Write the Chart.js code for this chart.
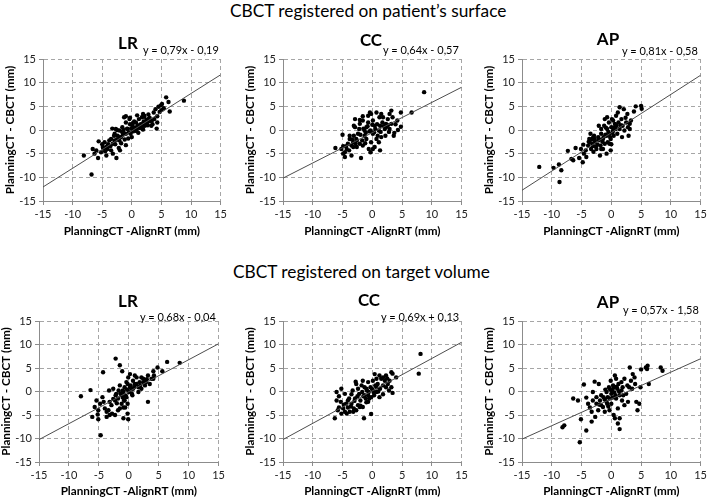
<!DOCTYPE html>
<html>
<head>
<meta charset="utf-8">
<script src="https://cdn.jsdelivr.net/npm/chart.js@4"></script>
<style>
  html, body { margin: 0; padding: 0; background: #fff; }
  body { width: 709px; height: 500px; position: relative; overflow: hidden; font-family: Lato, "Open Sans", sans-serif; color: #000; }
  .section { position: absolute; font-size: 17.3px; white-space: nowrap; transform: translateY(-50%); }
  .name { position: absolute; font-size: 17px; font-weight: bold; white-space: nowrap; transform: translate(-50%, -50%); }
  .eq { position: absolute; font-size: 11px; white-space: nowrap; transform: translateY(-50%); }
  .panel { position: absolute; }
</style>
</head>
<body>
<div class="section" style="left:230px; top:10px">CBCT registered on patient’s surface</div>
<div class="section" style="left:233px; top:271px">CBCT registered on target volume</div>

<script>
// tick labels shared by both axes of every panel
const axisTicks = [-15, -10, -5, 0, 5, 10, 15];
// x of the two ends of each regression line
const fitEndsX = [-15, 15];

// CBCT registered on patient's surface: [PlanningCT-AlignRT, PlanningCT-CBCT]
const surfaceLR = [
  [8.8,6.2],[5.8,6.9],[6.2,5.9],[6.4,3.9],[5.1,5.5],[4.5,4.9],[4.0,4.4],[3.7,3.7],[4.3,2.9],[4.3,1.6],
  [4.2,0.3],[3.4,2.0],[2.9,2.4],[3.3,0.9],[2.6,1.6],[2.1,3.0],[1.8,1.3],[1.8,0.2],[1.2,2.3],[0.9,0.6],
  [0.7,1.6],[0.4,-0.1],[0.1,0.9],[-0.2,-0.8],[-0.4,2.3],[-0.7,0.2],[-1.0,1.6],[-1.3,2.7],[-1.6,0.6],[-1.6,-0.5],
  [-1.8,-1.5],[-2.1,-0.1],[-2.1,-2.2],[-2.4,-1.2],[-2.7,0.2],[-2.9,-0.8],[-2.9,-2.2],[-3.2,-2.9],[-3.5,-1.9],[-3.8,-3.3],
  [-4.1,-4.0],[-4.3,-3.6],[-4.6,-2.6],[-4.9,-3.6],[-5.2,-4.7],[-5.6,-2.4],[-6.0,-4.3],[-6.3,-5.0],[-6.6,-4.0],[-5.7,-5.9],
  [-4.3,-5.4],[-8.1,-5.4],[-6.8,-9.4],[-2.6,-5.9],[-3.2,-5.0],[-3.5,-4.3],
  [0.5,0.5],[1.0,1.0],[1.5,1.2],[2.0,1.8],[2.5,2.2],[3.0,2.6],[0.2,-0.3],[-0.5,-0.5],[-1.0,-0.8],[-1.5,-1.0],
  [-2.0,-1.5],[-2.5,-2.0],[-0.8,0.3],[0.8,-0.2],[1.3,0.4],[2.2,0.9],[3.5,1.2],[3.8,2.3],[-0.3,1.2],[0.0,-1.5],
  [-1.2,-2.0],[-2.8,-3.0],[-3.0,-1.2],[-1.8,-2.8],[-0.6,-1.8],[0.4,1.8],[1.7,2.7],[2.8,3.3],[3.1,1.9],[-3.8,-2.2],
  [-4.5,-4.5],[-5.0,-3.0],[-2.2,-3.8],[-1.0,-3.2],[0.6,0.0],[1.1,-0.6],[1.9,0.1],[2.4,1.4],[-0.1,0.3],[-1.4,0.0],
  [-2.5,0.0],[-3.3,0.3],[-1.0,2.9],[-0.3,2.6],[0.9,3.1],[1.9,3.4],[2.1,2.8],[4.7,3.8],[5.0,4.2],[4.9,5.2],
  [5.4,4.6],[-4.0,-3.0],[-4.8,-3.9],[-3.6,-3.4],[-2.0,-4.3],[-1.5,-0.3],[0.2,1.5],[1.6,0.8],[2.7,1.0]
];
const surfaceCC = [
  [8.7,8.0],[6.6,3.7],[4.8,3.7],[4.8,0.7],[4.3,0.0],[4.2,2.0],[3.7,-0.6],[3.6,-1.2],[3.2,4.1],[2.9,3.4],
  [3.4,2.7],[2.6,2.3],[2.3,1.3],[2.1,0.2],[1.5,3.4],[1.2,2.7],[1.7,1.6],[1.3,0.9],[1.1,-0.1],[0.9,-1.2],
  [1.3,-4.3],[0.7,-1.9],[0.4,0.9],[0.1,2.0],[-0.2,3.4],[-0.3,-0.1],[0.1,-0.8],[0.1,-4.0],[-0.3,-4.7],[-0.6,-4.0],
  [-0.7,1.6],[-1.0,0.6],[-1.3,-0.1],[-1.6,2.0],[-1.6,2.9],[-1.3,-1.2],[-1.7,-2.2],[-2.1,1.3],[-2.2,0.2],[-2.4,-0.8],
  [-2.7,-1.9],[-2.9,0.6],[-3.1,-1.2],[-2.8,-2.9],[-3.2,-2.6],[-3.5,-3.3],[-3.8,-1.9],[-4.1,-2.9],[-4.3,-4.0],[-4.6,-4.7],
  [-4.9,-5.0],[-4.6,-5.7],[-5.2,-4.0],[-4.9,-3.4],[-6.2,-3.8],[-1.9,-5.9],[-3.2,-3.6],[-3.1,0.9],[-3.8,-1.2],[-2.9,2.3],
  [-2.1,2.1],[-0.7,3.0],[-0.4,3.7],[0.7,3.7],[1.8,2.7],[2.3,0.6],[2.9,0.2],[3.2,1.3],[2.2,-1.2],[1.5,-1.5],
  [1.1,-2.6],[0.4,-3.6],[-0.2,-2.6],[-1.0,-1.9],[-1.6,-3.3],[-2.1,-2.9],[-2.6,-3.6],[-3.9,-4.3],[-3.5,-5.4],[-5.0,-1.0],
  [0.5,0.2],[-0.5,-0.3],[0.8,1.2],[-1.1,-0.6],[1.9,0.8],[-2.0,-1.0],[0.3,-0.5],[-0.8,0.8],[2.6,1.0],[-1.5,0.3],
  [0.0,1.1],[1.4,-0.4],[-2.6,-2.2],[-3.4,-2.0],[-4.4,-3.4],[-1.2,-2.8],[2.8,-0.4],[3.9,1.2]
];
const surfaceAP = [
  [-12.1,-7.8],[-9.7,-8.0],[-8.8,-7.3],[-8.4,-8.5],[-8.7,-11.0],[-7.3,-4.4],[-6.7,-6.1],[-6.4,-6.4],[-6.0,-3.8],[-5.4,-5.9],
  [-4.8,-6.8],[-5.1,-4.0],[-4.7,-3.1],[-4.6,-5.0],[-4.2,-5.7],[-3.9,-3.3],[-3.6,-2.6],[-3.4,-4.0],[-3.2,-1.9],[-3.1,-3.4],
  [-2.9,-1.2],[-2.8,-2.6],[-2.5,-4.0],[-2.2,-2.2],[-2.1,0.9],[-1.9,-5.4],[-1.8,-3.3],[-1.7,-0.8],[-1.4,-1.9],[-1.2,0.9],
  [-1.1,-2.9],[-0.8,-1.2],[-0.7,0.2],[-0.6,-2.6],[-0.4,1.6],[-0.3,-0.8],[-0.1,-1.9],[0.0,0.6],[0.1,2.3],[0.3,-0.1],
  [0.4,-1.2],[0.6,1.3],[0.7,0.2],[0.8,3.0],[1.0,-0.8],[1.1,3.7],[1.2,1.6],[1.4,4.8],[1.4,0.2],[1.7,2.3],
  [1.8,-1.5],[1.9,0.9],[2.1,4.4],[2.2,-0.1],[2.5,1.6],[2.7,3.4],[2.8,0.6],[2.9,-1.2],[3.1,0.2],[3.3,2.0],
  [3.8,3.9],[4.1,5.0],[5.0,5.1],[5.1,4.5],[3.1,1.3],[-0.1,-4.3],[-0.8,-5.0],[-1.4,-4.0],[-2.2,-1.5],[-3.1,-1.7],
  [-3.7,-1.9],[-3.5,-0.8],[-1.7,0.2],[-1.1,2.3],[-0.7,2.7],[0.3,2.0],[-0.3,-2.9],[-1.7,-4.0],[-2.3,-3.1],[-3.2,-2.9],
  [-0.5,-0.4],[0.5,0.6],[-1.0,-1.0],[-2.0,-2.0],[-1.5,-2.5],[-2.6,-3.5],[0.9,0.9],[-0.2,-1.5],[-1.3,-1.5],[0.2,-0.6],
  [-2.8,-1.9],[-3.8,-2.5],[-3.0,-4.6],[-4.3,-4.3],[1.6,1.0],[2.4,2.6],[0.0,-3.0],[-0.9,0.5]
];

// CBCT registered on target volume
const targetLR = [
  [-8.0,-1.0],[-6.4,0.3],[-4.3,4.1],[-2.2,7.0],[-1.5,5.6],[-1.1,4.3],[-4.7,-9.3],[8.5,6.1],[6.4,6.3],[5.6,4.3],
  [4.8,5.1],[4.1,4.3],[4.2,3.4],[3.8,2.7],[3.2,3.4],[2.9,2.0],[3.2,-2.2],[2.7,1.3],[2.4,2.7],[2.1,0.6],
  [1.8,2.0],[1.6,0.9],[1.3,3.0],[1.0,1.6],[0.7,2.3],[0.4,0.6],[0.2,3.7],[0.0,-0.1],[-0.2,1.6],[-0.4,-1.2],
  [-0.7,0.9],[-0.8,-1.9],[-0.9,-0.1],[-1.2,-0.8],[-1.5,1.3],[-1.7,0.2],[-1.8,-1.5],[-2.1,-0.5],[-2.3,-1.9],[-2.6,0.6],
  [-2.9,-2.9],[-3.2,-2.2],[-3.3,0.2],[-3.4,-4.0],[-3.7,-5.4],[-4.0,-3.6],[-4.4,-1.2],[-4.8,-2.6],[-5.1,-4.0],[-5.2,-4.9],
  [-5.4,-1.9],[-5.7,-3.3],[-6.1,-5.4],[-5.1,-5.9],[-2.3,-5.0],[-2.8,-4.7],[-0.9,-3.4],[-0.6,-3.4],[-0.9,-5.7],[-0.1,-5.9],
  [-0.2,-4.7],[-1.8,-4.0],[-3.2,-5.0],[-3.7,-4.3],[-1.5,-3.6],[-0.1,3.0],[1.0,3.4],[2.1,3.0],[2.7,2.3],[3.5,1.6],
  [4.1,2.7],[1.6,-0.1],[0.6,-0.8],[-0.7,-1.9],[0.7,0.6],[-1.2,-2.6],[-2.2,-0.8],[-0.4,2.0],[0.3,1.3],[1.3,1.6],
  [-0.3,0.4],[0.5,-0.4],[-1.0,0.2],[-1.4,-0.4],[0.9,0.9],[-0.5,-0.9],[-2.0,-2.5],[1.9,1.2],[2.4,1.9],[-1.0,-1.3],
  [-2.6,-1.6],[0.2,0.9],[-0.2,-2.6],[3.0,2.6],[-4.2,-2.2]
];
const targetCC = [
  [8.1,8.0],[7.8,3.8],[4.0,3.0],[3.4,3.8],[3.2,4.1],[2.9,2.3],[2.6,1.6],[3.2,0.9],[3.4,-0.3],[2.8,0.2],
  [2.3,3.4],[2.1,2.3],[1.8,1.3],[1.5,2.7],[1.2,3.4],[0.9,1.6],[0.7,0.9],[0.4,3.7],[0.2,-0.1],[0.1,2.3],
  [-0.2,-1.2],[-0.3,0.9],[-0.2,-4.8],[-0.6,-0.1],[-0.7,-2.2],[-1.0,0.6],[-1.3,-0.8],[-1.6,-3.3],[-1.4,-5.7],[-1.7,-0.1],
  [-1.8,1.3],[-2.0,-1.9],[-2.2,-0.5],[-2.4,-2.9],[-2.7,1.6],[-2.8,2.1],[-2.9,-1.5],[-3.1,-3.6],[-3.3,0.2],[-3.5,-2.6],
  [-3.8,-4.3],[-3.9,-1.5],[-4.1,-3.4],[-4.3,-4.7],[-4.4,-2.6],[-4.6,-0.5],[-4.9,-3.6],[-5.2,0.6],[-5.3,-2.2],[-5.6,-3.4],
  [-5.8,-4.0],[-6.0,-0.1],[-6.0,-1.9],[-6.3,-5.7],[-4.6,-4.3],[-5.2,-4.7],[-3.2,-4.3],[-2.7,-4.0],[-2.1,-3.3],[-1.1,-1.5],
  [-0.7,-0.8],[0.7,-0.1],[1.3,0.6],[1.8,-0.6],[2.3,0.9],[1.8,3.0],[0.7,2.7],[-1.3,0.9],[-2.4,0.6],[-4.1,-1.9],
  [-3.5,-0.6],[-5.6,-1.0],[-1.6,2.3],[-0.7,2.0],[1.2,-1.2],
  [0.0,0.5],[-0.5,-1.5],[-1.0,-2.3],[-2.0,-3.0],[-3.0,-2.0],[0.5,1.3],[1.0,0.0],[-1.5,-1.0],[-2.5,-1.0],[-3.6,-3.2],
  [-4.8,-2.8],[2.5,2.8],[0.3,-0.8],[-0.9,0.2]
];
const targetAP = [
  [-8.2,-7.6],[-7.9,-7.2],[-5.3,-10.8],[-4.2,-8.3],[-5.1,-5.9],[-6.4,-1.5],[-5.6,-1.9],[-4.6,1.5],[-2.8,2.1],[-2.1,1.6],
  [-3.3,-6.4],[-3.3,-4.3],[-2.7,-5.4],[-2.2,-4.0],[-3.6,-3.4],[-3.9,-2.6],[-4.2,-1.3],[-3.1,-1.9],[-2.5,-2.6],[-1.9,-1.9],
  [-1.7,-0.8],[-1.4,-3.3],[-1.1,-1.7],[-0.8,-0.1],[-0.7,-2.6],[-0.4,0.9],[-0.3,-1.5],[-0.1,2.3],[0.0,-2.6],[0.1,0.2],
  [0.3,1.3],[0.4,-5.0],[0.6,-5.7],[0.7,-0.8],[0.8,2.7],[1.0,0.6],[1.1,-3.6],[1.2,1.6],[1.4,-8.0],[1.4,-0.8],
  [1.7,0.2],[1.8,-1.9],[1.9,0.9],[2.2,-2.9],[2.5,-0.5],[2.7,1.3],[2.8,-2.2],[3.1,5.1],[3.3,2.3],[3.5,0.6],
  [3.6,3.7],[3.9,3.0],[4.0,1.6],[4.2,-2.2],[4.4,-4.0],[4.7,-2.6],[4.9,0.9],[6.0,4.8],[6.3,1.6],[5.0,4.7],
  [5.8,5.1],[8.3,5.1],[8.6,4.4],[6.1,5.5],[1.4,-5.7],[1.1,-6.8],[-0.6,-1.2],[-0.3,-4.0],[-1.1,-4.3],[-1.7,-2.9],
  [0.8,-1.5],[1.7,2.0],[0.6,3.4],[2.2,2.7],[0.0,-0.5],[-0.8,-2.2],[-3.1,-0.1],[-2.5,-1.2],
  [0.5,-0.2],[-0.2,0.4],[0.9,1.0],[-1.3,-1.2],[0.2,-1.3],[1.3,0.0],[-2.0,-2.8],[2.0,-0.8],[0.4,0.8],[-0.5,-3.2],
  [3.0,0.9],[-1.0,0.4]
];

// regression line values at x = -15 and x = 15
const surfaceLRFit = [-12.04, 11.66];
const surfaceCCFit = [-10.17, 9.03];
const surfaceAPFit = [-12.73, 11.57];
const targetLRFit = [-10.24, 10.16];
const targetCCFit = [-10.22, 10.48];
const targetAPFit = [-10.13, 6.97];

const names = ['LR', 'CC', 'AP', 'LR', 'CC', 'AP'];
const equations = ['y = 0,79x - 0,19', 'y = 0,64x - 0,57', 'y = 0,81x - 0,58',
                   'y = 0,68x - 0,04', 'y = 0,69x + 0,13', 'y = 0,57x - 1,58'];

// layout of the six panels (plot area edges and title spots, in page pixels)
const rows = [
  { chartT: 59, chartB: 201, padTop: 29, xH: 44, titlePad: 7 },
  { chartT: 321, chartB: 462, padTop: 31, xH: 38, titlePad: 2 }
];
const panels = [
  { points: surfaceLR, fit: surfaceLRFit, row: 0, chartL: 43, chartR: 222, nameX: 128, nameY: 42, eqX: 143, eqY: 49 },
  { points: surfaceCC, fit: surfaceCCFit, row: 0, chartL: 283, chartR: 463, nameX: 371, nameY: 39, eqX: 383, eqY: 49 },
  { points: surfaceAP, fit: surfaceAPFit, row: 0, chartL: 522, chartR: 702, nameX: 608, nameY: 38, eqX: 622, eqY: 50 },
  { points: targetLR, fit: targetLRFit, row: 1, chartL: 39, chartR: 220, nameX: 128, nameY: 300, eqX: 140, eqY: 316 },
  { points: targetCC, fit: targetCCFit, row: 1, chartL: 283, chartR: 463, nameX: 369, nameY: 299, eqX: 381, eqY: 316 },
  { points: targetAP, fit: targetAPFit, row: 1, chartL: 522, chartR: 702, nameX: 608, nameY: 301, eqX: 623, eqY: 309 }
];

const Y_AXIS_W = 43;
const RIGHT_PAD = 8;
const fontFamily = 'Lato, "Open Sans", sans-serif';

function axisOptions(titleText, isX, row) {
  return {
    type: 'linear',
    min: -15,
    max: 15,
    afterBuildTicks: (scale) => { scale.ticks = axisTicks.map(v => ({ value: v })); },
    afterFit: (scale) => {
      if (isX) scale.height = row.xH;
      else scale.width = Y_AXIS_W;
    },
    ticks: { font: { family: fontFamily, size: 11 }, color: '#222', padding: 3, maxRotation: 0, autoSkip: false },
    grid: { color: '#a6a6a6', lineWidth: 1, tickLength: 4, tickColor: '#8c8c8c', tickBorderDash: [] },
    border: { display: true, color: '#8c8c8c', width: 1, dash: [4, 3] },
    title: {
      display: true,
      text: titleText,
      color: '#000',
      font: { family: fontFamily, size: 11.7, weight: 'bold' },
      padding: isX ? { top: 0, bottom: row.titlePad } : { top: 3, bottom: 0 }
    }
  };
}

panels.forEach((p, i) => {
  const row = rows[p.row];
  const left = p.chartL - Y_AXIS_W;
  const top = row.chartT - row.padTop;
  const width = (p.chartR - p.chartL) + Y_AXIS_W + RIGHT_PAD;
  const height = row.padTop + (row.chartB - row.chartT) + row.xH;

  const box = document.createElement('div');
  box.className = 'panel';
  box.style.left = left + 'px';
  box.style.top = top + 'px';
  const canvas = document.createElement('canvas');
  canvas.width = width;
  canvas.height = height;
  canvas.style.width = width + 'px';
  canvas.style.height = height + 'px';
  box.appendChild(canvas);
  document.body.appendChild(box);

  const nameDiv = document.createElement('div');
  nameDiv.className = 'name';
  nameDiv.style.left = p.nameX + 'px';
  nameDiv.style.top = p.nameY + 'px';
  nameDiv.textContent = names[i];
  document.body.appendChild(nameDiv);

  const eqDiv = document.createElement('div');
  eqDiv.className = 'eq';
  eqDiv.style.left = p.eqX + 'px';
  eqDiv.style.top = p.eqY + 'px';
  eqDiv.textContent = equations[i];
  document.body.appendChild(eqDiv);

  new Chart(canvas.getContext('2d'), {
    type: 'scatter',
    data: {
      datasets: [
        {
          type: 'line',
          data: fitEndsX.map((x, k) => ({ x: x, y: p.fit[k] })),
          borderColor: '#4d4d4d',
          borderWidth: 1,
          pointRadius: 0,
          fill: false
        },
        {
          data: p.points.map(([x, y]) => ({ x: x, y: y })),
          pointRadius: 2.2,
          pointBorderWidth: 0,
          backgroundColor: '#000',
          borderColor: '#000'
        }
      ]
    },
    options: {
      responsive: false,
      animation: false,
      layout: { padding: { top: row.padTop, right: RIGHT_PAD, left: 0, bottom: 0 } },
      plugins: { legend: { display: false }, tooltip: { enabled: false } },
      scales: {
        x: axisOptions('PlanningCT -AlignRT (mm)', true, row),
        y: axisOptions('PlanningCT - CBCT (mm)', false, row)
      }
    }
  });
});
</script>
</body>
</html>
